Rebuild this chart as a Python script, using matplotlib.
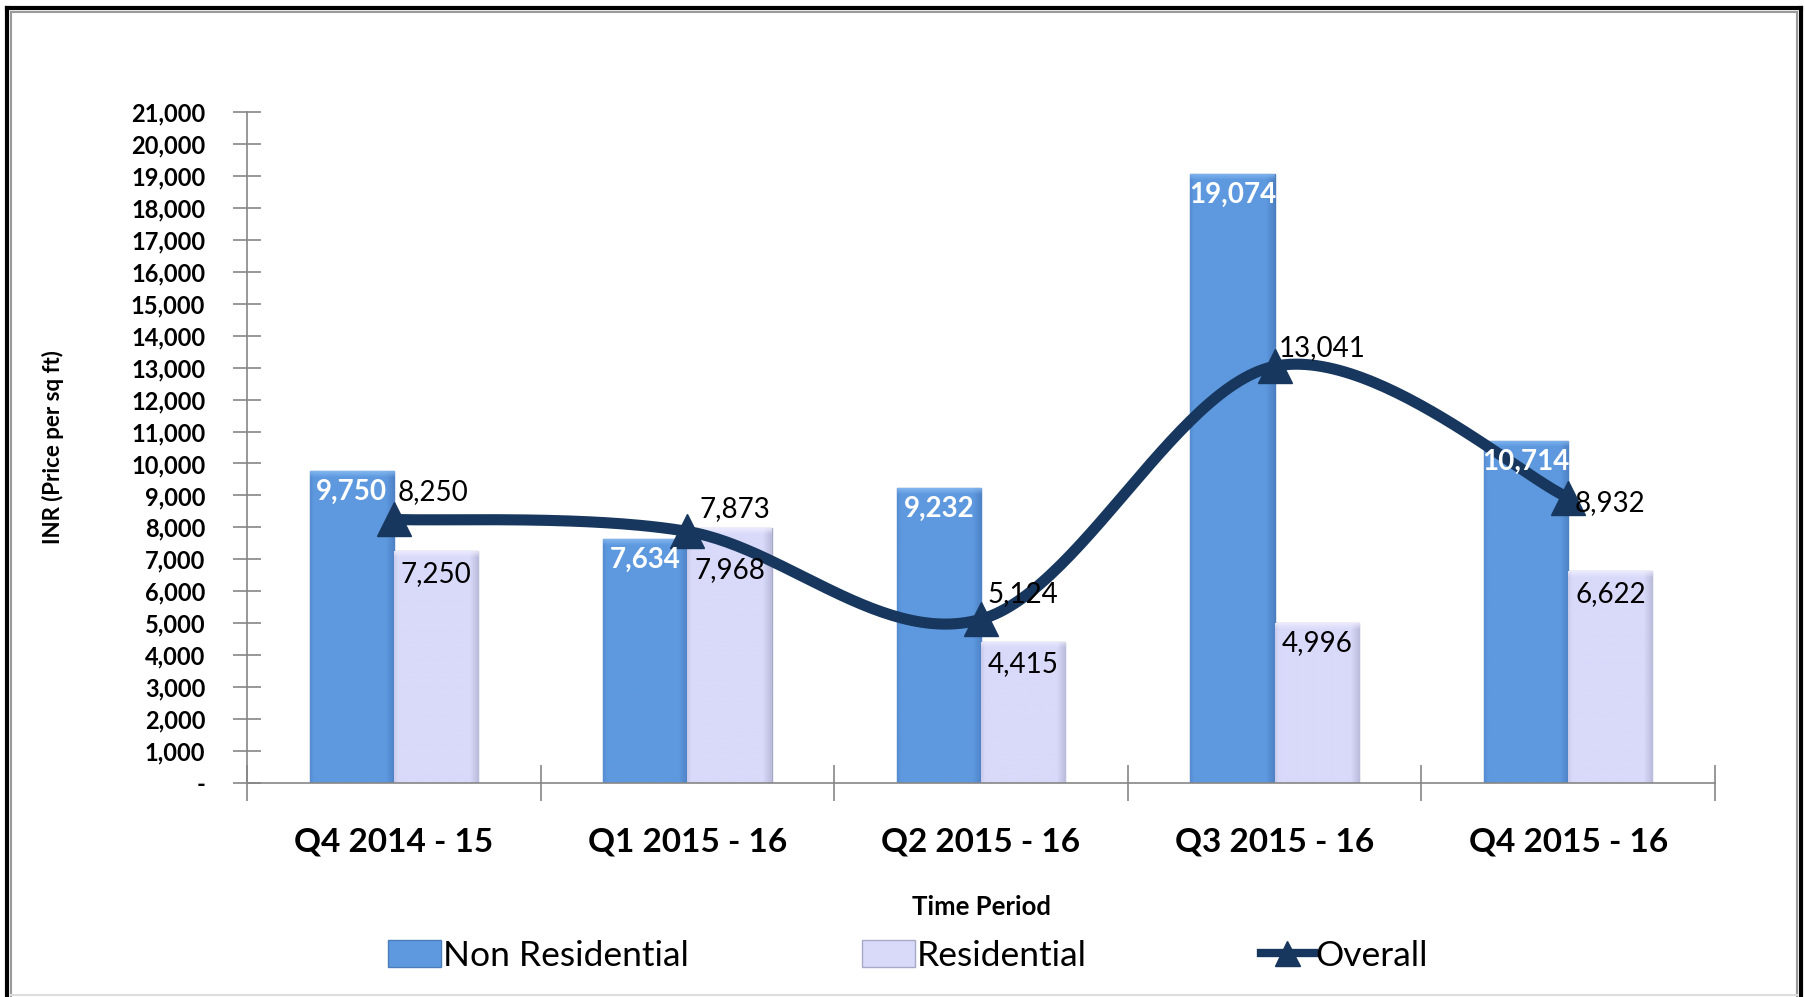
import numpy as np
import matplotlib
matplotlib.use("Agg")
import matplotlib.pyplot as plt
from matplotlib.patches import Patch
from matplotlib.lines import Line2D

categories = ["Q4 2014 - 15", "Q1 2015 - 16", "Q2 2015 - 16", "Q3 2015 - 16", "Q4 2015 - 16"]
non_residential = [9750, 7634, 9232, 19074, 10714]
residential = [7250, 7968, 4415, 4996, 6622]
overall = [8250, 7873, 5124, 13041, 8932]
y_ticks = list(range(0, 21001, 1000))

plt.rcParams['font.family'] = ['Lato', 'DejaVu Sans']

W, H = 1805, 997
fig = plt.figure(figsize=(W / 100, H / 100), dpi=100)
ax = fig.add_axes([247 / W, 1 - 783 / H, (1715 - 247) / W, (783 - 112) / H])

x = np.arange(len(categories))
bw = 0.287
nr_color = '#5E99DF'
r_color = '#D9D9FA'
line_color = '#17375E'

bars_nr = ax.bar(x - bw / 2, non_residential, width=bw, color=nr_color, edgecolor='#4A7EBB', linewidth=1.0, zorder=2)
bars_r = ax.bar(x + bw / 2, residential, width=bw, color=r_color, edgecolor='#A8A8C8', linewidth=1.0, zorder=2)


def shade(bars, base, edge_dark, top_light):
    base = np.array(matplotlib.colors.to_rgb(base))
    edge_dark = np.array(matplotlib.colors.to_rgb(edge_dark))
    top_light = np.array(matplotlib.colors.to_rgb(top_light))
    for p in bars:
        x0, w, h = p.get_x(), p.get_width(), p.get_height()
        nx, ny = 60, 400
        u = np.linspace(0, 1, nx)
        hw = np.clip(np.maximum((u - 0.9) / 0.1, (0.04 - u) / 0.04 * 0.5), 0, 1)
        v = np.linspace(0, 1, ny)  # 0 = top
        band = 190.0 / h
        vt = np.clip(1 - v / band, 0, 1)
        img = base[None, None, :] * np.ones((ny, nx, 3))
        img = img * (1 - hw[None, :, None] * 0.6) + edge_dark[None, None, :] * (hw[None, :, None] * 0.6)
        img = img * (1 - vt[:, None, None] * 0.7) + top_light[None, None, :] * (vt[:, None, None] * 0.7)
        im = ax.imshow(img, extent=(x0, x0 + w, 0, h), aspect='auto', zorder=2.1, origin='upper',
                       interpolation='bilinear')
        im.set_clip_path(p)


shade(bars_nr, nr_color, '#4574B5', '#8FC0F5')
shade(bars_r, r_color, '#A9A9C8', '#F2F2FF')

# smooth (Catmull-Rom) curve through the overall points, like Excel's smoothed line
def catmull(xs, ys, n=60):
    px = np.concatenate([[xs[0]], xs, [xs[-1]]])
    py = np.concatenate([[ys[0]], ys, [ys[-1]]])
    ox, oy = [], []
    for i in range(1, len(px) - 2):
        t = np.linspace(0, 1, n)
        for arr, out in ((px, ox), (py, oy)):
            p0, p1, p2, p3 = arr[i - 1], arr[i], arr[i + 1], arr[i + 2]
            out.extend(0.5 * ((2 * p1) + (-p0 + p2) * t + (2 * p0 - 5 * p1 + 4 * p2 - p3) * t ** 2
                              + (-p0 + 3 * p1 - 3 * p2 + p3) * t ** 3))
    return np.array(ox), np.array(oy)

sx, sy = catmull(x.astype(float), np.array(overall, dtype=float))
ax.plot(sx, sy, color=line_color, linewidth=8, solid_capstyle='round', zorder=3)
ax.plot(x, overall, linestyle='none', marker='^', markersize=24, color=line_color, zorder=4)

ax.set_xlim(-0.5, len(categories) - 0.5)
ax.set_ylim(0, 21000)
ax.set_yticks(y_ticks)
ax.set_yticklabels(['-' if v == 0 else f"{v:,}" for v in y_ticks], fontsize=17, fontweight='bold')
ax.set_xticks(x)
ax.set_xticklabels(categories, fontsize=24, fontweight='bold')
ax.set_xticks(np.arange(-0.5, len(categories), 1), minor=True)
ax.tick_params(axis='x', which='major', length=0, pad=32)
ax.tick_params(axis='x', which='minor', length=26, direction='inout', color='#868686', width=1.2)
ax.tick_params(axis='y', length=20, direction='inout', color='#868686', width=1.2, pad=20)
for s in ['top', 'right']:
    ax.spines[s].set_visible(False)
for s in ['left', 'bottom']:
    ax.spines[s].set_color('#868686')
    ax.spines[s].set_linewidth(1.2)

ax.set_xlabel('Time Period', fontsize=18.5, fontweight='bold', labelpad=28)
ax.set_ylabel('INR (Price per sq ft)', fontsize=16, fontweight='bold', labelpad=48)

# data labels
for i, v in enumerate(non_residential):
    ax.annotate(f"{v:,}", (x[i] - bw / 2, v), xytext=(0, -15), textcoords='offset points',
                ha='center', va='center', color='white', fontsize=20, fontweight='bold', zorder=5)
res_off = [(0, -16), (0, -30), (0, -16), (0, -14), (0, -16)]
for i, v in enumerate(residential):
    ax.annotate(f"{v:,}", (x[i] + bw / 2, v), xytext=res_off[i], textcoords='offset points',
                ha='center', va='center', color='black', fontsize=20, zorder=5)
ov_off = [(28, 20), (34, 16), (30, 18), (34, 13), (30, -4)]
for i, v in enumerate(overall):
    ax.annotate(f"{v:,}", (x[i], v), xytext=ov_off[i], textcoords='offset points',
                ha='center', va='center', color='black', fontsize=20, zorder=5)

handles = [Patch(facecolor=nr_color, edgecolor='#4A7EBB'),
           Patch(facecolor=r_color, edgecolor='#A8A8C8'),
           Line2D([0], [0], color=line_color, linewidth=6, marker='^', markersize=18)]
fig.legend(handles, ['Non Residential', 'Residential', 'Overall'], loc='center',
           bbox_to_anchor=(908 / W, 1 - 956 / H), ncol=3, frameon=False, fontsize=25.5,
           columnspacing=4.9, handletextpad=0.05, handlelength=1.5, handleheight=0.8)

# frame
tf = fig.transFigure
fig.add_artist(Line2D([7 / W, 7 / W], [0, 1 - 8 / H], color='black', linewidth=3, transform=tf))
fig.add_artist(Line2D([7 / W, 1 - 4 / W], [1 - 8 / H, 1 - 8 / H], color='black', linewidth=3, transform=tf))
fig.add_artist(Line2D([1 - 4 / W, 1 - 4 / W], [0, 1 - 8 / H], color='black', linewidth=3, transform=tf))
fig.add_artist(Line2D([11 / W, 11 / W], [0, 1 - 12 / H], color='#9A9A9A', linewidth=1.5, transform=tf))
fig.add_artist(Line2D([11 / W, 1 - 8 / W], [1 - 12 / H, 1 - 12 / H], color='#9A9A9A', linewidth=1.5, transform=tf))
fig.add_artist(Line2D([1 - 8 / W, 1 - 8 / W], [0, 1 - 12 / H], color='#9A9A9A', linewidth=1.5, transform=tf))
fig.add_artist(Line2D([11 / W, 1 - 8 / W], [2 / H, 2 / H], color='#DDDDDD', linewidth=1.5, transform=tf))

fig.savefig('out.png', dpi=100)
